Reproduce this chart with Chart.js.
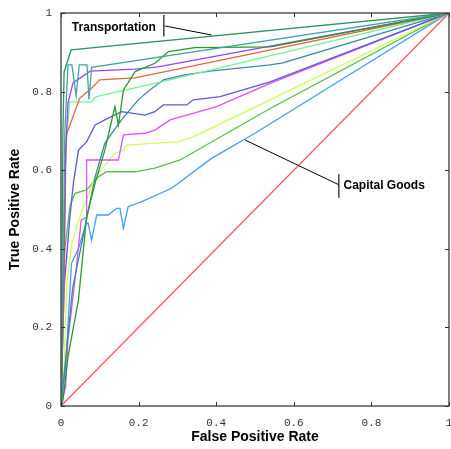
<!DOCTYPE html>
<html>
<head>
<meta charset="utf-8">
<script src="https://cdn.jsdelivr.net/npm/chart.js@4.4.0/dist/chart.umd.min.js"></script>
<style>
  body { margin:0; background:#fff; }
  #wrap { width:451px; height:449px; }
</style>
</head>
<body>
<div id="wrap"><canvas id="roc" width="451" height="449"></canvas></div>
<script>
// --- curve data: [false positive rate, true positive rate] ---
const transportation = [[0,0],[0.002,0.3],[0.005,0.7],[0.008,0.85],[0.026,0.906],[1,1]];
const tealCurve = [[0,0],[0.006,0.4],[0.01,0.7],[0.018,0.868],[0.028,0.868],[0.039,0.79],[0.047,0.868],[0.067,0.868],[0.072,0.78],[0.079,0.862],[1,1]];
const purpleCurve = [[0,0],[0.006,0.3],[0.012,0.65],[0.018,0.771],[0.031,0.822],[0.075,0.852],[0.19,0.857],[0.25,0.863],[1,1]];
const orangeCurve = [[0,0],[0.008,0.3],[0.012,0.61],[0.014,0.69],[0.031,0.736],[0.048,0.783],[0.078,0.808],[0.1,0.83],[0.19,0.835],[0.25,0.847],[1,1]];
const mintCurve = [[0,0],[0.008,0.4],[0.012,0.65],[0.022,0.774],[0.078,0.774],[0.091,0.787],[0.25,0.823],[1,1]];
const greenCurve = [[0,0],[0.005,0.015],[0.018,0.125],[0.045,0.27],[0.066,0.482],[0.088,0.567],[0.113,0.651],[0.139,0.762],[0.148,0.715],[0.161,0.804],[0.191,0.851],[0.242,0.872],[0.277,0.902],[0.345,0.912],[0.54,0.914],[1,1]];
const steelCurve = [[0,0],[0.01,0.1],[0.03,0.3],[0.062,0.456],[0.088,0.583],[0.113,0.669],[0.156,0.728],[0.199,0.779],[0.229,0.804],[0.264,0.83],[0.315,0.842],[0.384,0.852],[0.539,0.868],[0.572,0.873],[1,1]];
const blueCurve = [[0,0],[0.008,0.3],[0.023,0.482],[0.032,0.567],[0.045,0.651],[0.066,0.672],[0.088,0.715],[0.113,0.728],[0.156,0.749],[0.216,0.74],[0.242,0.749],[0.264,0.766],[0.324,0.766],[0.341,0.779],[0.41,0.787],[0.539,0.825],[1,1]];
const magentaCurve = [[0,0],[0.012,0.05],[0.018,0.168],[0.027,0.244],[0.039,0.346],[0.052,0.473],[0.066,0.48],[0.066,0.626],[0.148,0.626],[0.161,0.69],[0.216,0.694],[0.242,0.702],[0.281,0.728],[0.401,0.762],[0.539,0.821],[1,1]];
const limeCurve = [[0,0],[0.008,0.1],[0.015,0.312],[0.028,0.414],[0.049,0.482],[0.088,0.583],[0.139,0.643],[0.161,0.651],[0.169,0.664],[0.234,0.668],[0.302,0.672],[0.341,0.685],[0.539,0.779],[1,1]];
const capitalGreen = [[0,0],[0.004,0.2],[0.01,0.4],[0.023,0.507],[0.036,0.541],[0.066,0.55],[0.096,0.583],[0.118,0.596],[0.191,0.596],[0.242,0.605],[0.307,0.626],[0.539,0.757],[1,1]];
const capitalGoods = [[0,0],[0.012,0.1],[0.027,0.363],[0.045,0.4],[0.065,0.465],[0.07,0.465],[0.079,0.422],[0.092,0.486],[0.122,0.486],[0.143,0.503],[0.152,0.503],[0.161,0.452],[0.173,0.507],[0.208,0.52],[0.285,0.554],[0.388,0.63],[0.5,0.694],[1,1]];
const chance = [[0,0],[1,1]];

const curves = [
  {d:transportation, c:'#2e9462'},
  {d:tealCurve, c:'#3fa5a5'},
  {d:greenCurve, c:'#2a9a2a'},
  {d:purpleCurve, c:'#9a44ee'},
  {d:orangeCurve, c:'#e0673e'},
  {d:mintCurve, c:'#74f294'},
  {d:steelCurve, c:'#3a8aa6'},
  {d:blueCurve, c:'#5a5ade'},
  {d:magentaCurve, c:'#e052f2'},
  {d:limeCurve, c:'#ccff5a'},
  {d:capitalGreen, c:'#52c244'},
  {d:capitalGoods, c:'#3ea0ff'},
  {d:chance, c:'#ff5a5a'}
];

const tickVals = [0,0.2,0.4,0.6,0.8,1];
const tickText = ['0','0.2','0.4','0.6','0.8','1'];

// --- labels with pointer lines, plus box and inward ticks ---
const labels = [
  {text:'Transportation', bar:[0.265,0.995,0.94], from:[0.268,0.967], to:[0.388,0.944], tx:0.028, ty:0.962},
  {text:'Capital Goods', bar:[0.716,0.59,0.53], from:[0.716,0.563], to:[0.474,0.677], tx:0.728, ty:0.56}
];

const framePlugin = {
  id:'frame',
  afterDatasetsDraw(chart){
    const ctx = chart.ctx, a = chart.chartArea;
    const xs = chart.scales.x, ys = chart.scales.y;
    ctx.save();
    ctx.strokeStyle = '#555';
    ctx.lineWidth = 1.5;
    ctx.strokeRect(a.left, a.top, a.right - a.left, a.bottom - a.top);
    ctx.lineWidth = 1;
    ctx.strokeStyle = '#333';
    tickVals.forEach(v=>{
      const px = Math.round(xs.getPixelForValue(v)) + 0.5;
      const py = Math.round(ys.getPixelForValue(v)) + 0.5;
      ctx.beginPath();
      ctx.moveTo(px, a.bottom); ctx.lineTo(px, a.bottom - 4);
      ctx.moveTo(px, a.top); ctx.lineTo(px, a.top + 4);
      ctx.moveTo(a.left, py); ctx.lineTo(a.left + 4, py);
      ctx.moveTo(a.right, py); ctx.lineTo(a.right - 4, py);
      ctx.stroke();
    });
    ctx.fillStyle = '#000';
    ctx.font = 'bold 12px "Liberation Sans", Arial, sans-serif';
    ctx.textBaseline = 'middle';
    ctx.textAlign = 'left';
    labels.forEach(l=>{
      const bx = xs.getPixelForValue(l.bar[0]);
      ctx.strokeStyle = '#444';
      ctx.lineWidth = 1.5;
      ctx.beginPath();
      ctx.moveTo(bx, ys.getPixelForValue(l.bar[1]));
      ctx.lineTo(bx, ys.getPixelForValue(l.bar[2]));
      ctx.stroke();
      ctx.strokeStyle = '#000';
      ctx.lineWidth = 1;
      ctx.beginPath();
      ctx.moveTo(xs.getPixelForValue(l.from[0]), ys.getPixelForValue(l.from[1]));
      ctx.lineTo(xs.getPixelForValue(l.to[0]), ys.getPixelForValue(l.to[1]));
      ctx.stroke();
      ctx.fillText(l.text, xs.getPixelForValue(l.tx), ys.getPixelForValue(l.ty));
    });
    ctx.restore();
  }
};

const tickFont = {family:'"Liberation Mono", "DejaVu Sans Mono", monospace', size:11};
const titleFont = {family:'"Liberation Sans", Arial, sans-serif', size:14, weight:'bold'};
const fmt = (v) => tickText[tickVals.indexOf(v)] ?? String(v);

new Chart(document.getElementById('roc'), {
  type:'line',
  data:{
    datasets: curves.map(c=>({
      data: c.d.map(p=>({x:p[0], y:p[1]})),
      borderColor: c.c,
      borderWidth: 1.3,
      pointRadius: 0,
      tension: 0,
      fill: false
    }))
  },
  options:{
    responsive:false,
    animation:false,
    layout:{padding:{top:13, right:2, left:0, bottom:0}},
    plugins:{legend:{display:false}, tooltip:{enabled:false}},
    scales:{
      x:{
        type:'linear', min:0, max:1,
        grid:{display:false, drawTicks:false}, border:{display:false},
        afterBuildTicks: s => { s.ticks = tickVals.map(v=>({value:v})); },
        ticks:{font:tickFont, color:'#333', padding:10, maxRotation:0, callback:fmt},
        title:{display:true, text:'False Positive Rate', font:titleFont, color:'#000', padding:{top:0, bottom:3}},
        afterFit: s => { s.height = 43; s.paddingLeft = 0; s.paddingRight = 0; }
      },
      y:{
        type:'linear', min:0, max:1,
        grid:{display:false, drawTicks:false}, border:{display:false},
        afterBuildTicks: s => { s.ticks = tickVals.map(v=>({value:v})); },
        ticks:{font:tickFont, color:'#333', padding:9, callback:fmt},
        title:{display:true, text:'True Positive Rate', font:titleFont, color:'#000', padding:{top:7, bottom:0}},
        afterFit: s => { s.width = 61; s.paddingTop = 0; s.paddingBottom = 0; }
      }
    }
  },
  plugins:[framePlugin]
});
</script>
</body>
</html>
